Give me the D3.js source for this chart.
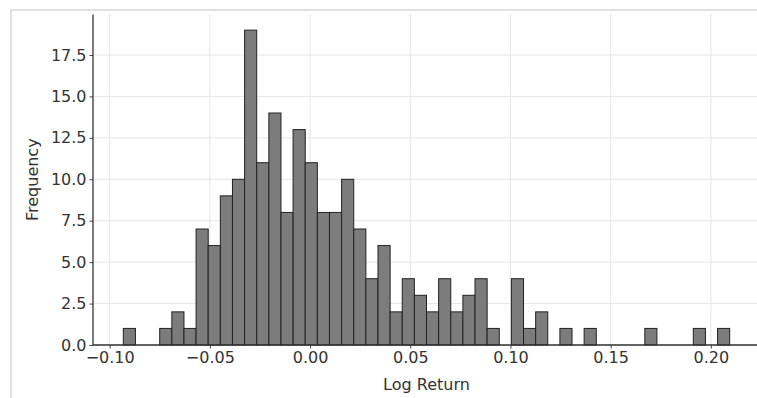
<!DOCTYPE html>
<html>
<head>
<meta charset="utf-8">
<script src="https://cdn.jsdelivr.net/npm/d3@7"></script>
<style>
  html, body { margin: 0; padding: 0; background: #fff; }
  svg { display: block; }
  text { font-family: "DejaVu Sans", sans-serif; }
</style>
</head>
<body>
<svg id="chart" width="757" height="398"></svg>
<script>
// Histogram of log returns: 50 equal bins between dataMin and dataMax
const dataMin = -0.0932;
const dataMax = 0.2094;
const binCounts = [1,0,0,1,2,1,7,6,9,10,19,11,14,8,13,11,8,8,10,7,4,6,2,4,3,2,4,2,3,4,1,0,4,1,2,0,1,0,1,0,0,0,0,1,0,0,0,1,0,1];
const xTicks = [-0.10, -0.05, 0.00, 0.05, 0.10, 0.15, 0.20];
const yTicks = [0, 2.5, 5, 7.5, 10, 12.5, 15, 17.5];
const xLabel = "Log Return";
const yLabel = "Frequency";

const svg = d3.select("#chart");
const W = 757, H = 398;

// outer frame
svg.append("rect").attr("x", 11).attr("y", 10).attr("width", W).attr("height", H)
  .attr("fill", "#fff").attr("stroke", "#d8d8d8").attr("stroke-width", 1.5);

const nb = binCounts.length;
const bw = (dataMax - dataMin) / nb;
const bins = binCounts.map((c, i) => ({x0: dataMin + i * bw, x1: dataMin + (i + 1) * bw, c}));

const xPad = (dataMax - dataMin) * 0.05;
const yMax = d3.max(binCounts) * 1.05;
const plot = {left: 93, right: 760, top: 14.4, bottom: 345};

const x = d3.scaleLinear().domain([dataMin - xPad, dataMax + xPad]).range([plot.left, plot.right]);
const y = d3.scaleLinear().domain([0, yMax]).range([plot.bottom, plot.top]);

// grid
const grid = svg.append("g").attr("stroke", "#e6e6e6").attr("stroke-width", 1);
grid.selectAll("line.gx").data(xTicks).join("line")
  .attr("x1", d => x(d)).attr("x2", d => x(d))
  .attr("y1", plot.top).attr("y2", plot.bottom);
grid.selectAll("line.gy").data(yTicks).join("line")
  .attr("x1", plot.left).attr("x2", plot.right)
  .attr("y1", d => y(d)).attr("y2", d => y(d));

// bars
svg.append("g").selectAll("rect").data(bins.filter(b => b.c > 0)).join("rect")
  .attr("x", d => x(d.x0)).attr("width", d => x(d.x1) - x(d.x0))
  .attr("y", d => y(d.c)).attr("height", d => y(0) - y(d.c))
  .attr("fill", "#7c7c7c").attr("stroke", "#222").attr("stroke-width", 1);

// axes
const xAxis = d3.axisBottom(x).tickValues(xTicks).tickFormat(d3.format(".2f")).tickSize(3.5).tickPadding(3);
const yAxis = d3.axisLeft(y).tickValues(yTicks).tickFormat(d3.format(".1f")).tickSize(3.5).tickPadding(3);

const gx = svg.append("g").attr("transform", `translate(0,${plot.bottom})`).call(xAxis);
const gy = svg.append("g").attr("transform", `translate(${plot.left},0)`).call(yAxis);
[gx, gy].forEach(g => {
  g.select(".domain").remove();
  g.selectAll(".tick line").attr("stroke", "#444");
  g.selectAll(".tick text").attr("fill", "#333").style("font-size", "16px").style("font-family", "DejaVu Sans");
});

// spines
svg.append("line").attr("x1", plot.left).attr("x2", plot.right).attr("y1", plot.bottom).attr("y2", plot.bottom)
  .attr("stroke", "#333").attr("stroke-width", 1.3);
svg.append("line").attr("x1", plot.left).attr("x2", plot.left).attr("y1", plot.top).attr("y2", plot.bottom)
  .attr("stroke", "#333").attr("stroke-width", 1.3);

// labels
svg.append("text").attr("x", (plot.left + plot.right) / 2).attr("y", 390)
  .attr("text-anchor", "middle").attr("fill", "#333").style("font-size", "16px").text(xLabel);
svg.append("text").attr("transform", `translate(38,${(plot.top + plot.bottom) / 2}) rotate(-90)`)
  .attr("text-anchor", "middle").attr("fill", "#333").style("font-size", "16px").text(yLabel);
</script>
</body>
</html>
